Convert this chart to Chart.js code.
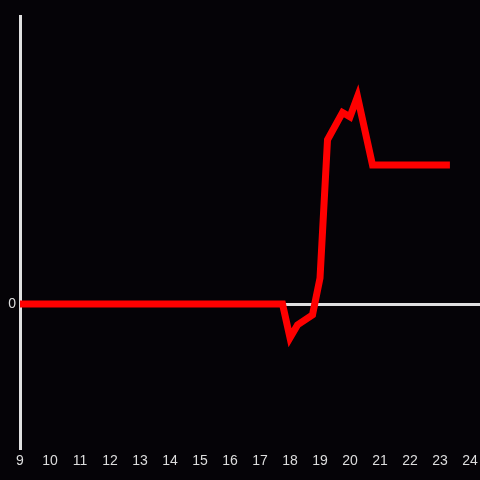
<!DOCTYPE html>
<html>
<head>
<meta charset="utf-8">
<script src="https://cdn.jsdelivr.net/npm/chart.js@4"></script>
<style>
  html, body { margin: 0; padding: 0; background: #050307; }
  #wrap { width: 480px; height: 480px; }
</style>
</head>
<body>
<div id="wrap"><canvas id="chart"></canvas></div>
<script>
// hours of the day (x) and value (y)
const hours  = [9, 17.75, 18.0, 18.25, 18.75, 19.0, 19.25, 19.75, 20.0, 20.25, 20.75, 23.33];
const values = [0, 0, -23.5, -14.5, -7.5, 18, 114, 133, 130, 144, 96.5, 96.5];
const yTicks = [0];

const pts = hours.map((h, i) => ({ x: h, y: values[i] }));
const ctx = document.getElementById("chart");

new Chart(ctx, {
  type: "line",
  data: {
    datasets: [
      {
        data: pts,
        borderColor: "#ff0000",
        borderWidth: 7,
        pointRadius: 0,
        tension: 0,
        borderJoinStyle: "miter",
        borderCapStyle: "butt",
        fill: false,
      },
    ],
  },
  options: {
    responsive: true,
    maintainAspectRatio: false,
    animation: false,
    layout: { autoPadding: false, padding: { top: 16, right: 0, left: 0, bottom: 0 } },
    plugins: { legend: { display: false }, tooltip: { enabled: false } },
    scales: {
      x: {
        type: "linear",
        min: 9,
        max: 24.333,
        border: { display: false },
        grid: { display: false, drawTicks: false },
        afterBuildTicks: (axis) => {
          const t = [];
          for (let h = 9; h <= 24; h++) t.push({ value: h });
          axis.ticks = t;
        },
        afterFit: (axis) => {
          axis.height = 32;
          axis.paddingLeft = 0;
          axis.paddingRight = 0;
        },
        ticks: {
          color: "#dddddd",
          font: { family: "Liberation Sans, Arial, sans-serif", size: 14 },
          padding: 5,
          autoSkip: false,
          maxRotation: 0,
        },
      },
      y: {
        min: -100,
        max: 200,
        border: { display: true, color: "#e0e0e0", width: 3 },
        grid: {
          drawTicks: false,
          color: (c) => (c.tick && c.tick.value === 0 ? "#e0e0e0" : "rgba(0,0,0,0)"),
          lineWidth: 3,
        },
        afterBuildTicks: (axis) => {
          axis.ticks = yTicks.map((v) => ({ value: v }));
        },
        afterFit: (axis) => { axis.width = 20; },
        ticks: {
          color: "#dddddd",
          font: { family: "Liberation Sans, Arial, sans-serif", size: 14 },
          padding: 4,
        },
      },
    },
  },
});
</script>
</body>
</html>
